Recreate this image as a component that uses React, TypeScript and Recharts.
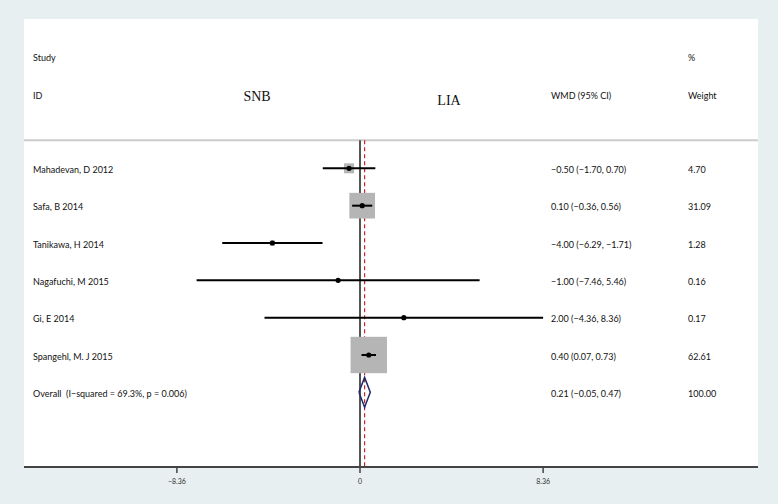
import React from 'react'
import { ComposedChart, Scatter, XAxis, YAxis, ReferenceLine } from 'recharts'

// study rows, top to bottom
const studies = ['Mahadevan, D 2012', 'Safa, B 2014', 'Tanikawa, H 2014', 'Nagafuchi, M 2015', 'Gi, E 2014', 'Spangehl, M. J 2015']
const wmd = [-0.5, 0.1, -4.0, -1.0, 2.0, 0.4]
const lower = [-1.7, -0.36, -6.29, -7.46, -4.36, 0.07]
const upper = [0.7, 0.56, -1.71, 5.46, 8.36, 0.73]
const weights = [4.7, 31.09, 1.28, 0.16, 0.17, 62.61]

const overallLabel = 'Overall  (I\u2212squared = 69.3%, p = 0.006)'
const overallWmd = 0.21
const overallLower = -0.05
const overallUpper = 0.47
const overallWeight = 100

const xTicks = [-8.36, 0, 8.36]

const FONT = 'Lato, "Open Sans", sans-serif'
const SERIF = '"Liberation Serif", "DejaVu Serif", serif'

const fmt = (v: number) => v.toFixed(2).replace('-', '\u2212')

const studyRows = studies.map((name, i) => ({
  x: wmd[i],
  y: i + 1,
  weight: weights[i],
}))

const ciLines = studies.map((name, i) => [
  { x: lower[i], y: i + 1 },
  { x: upper[i], y: i + 1 },
])

const textRows = [
  ...studies.map((name, i) => ({
    x: 0,
    y: i + 1,
    label: name,
    ci: `${fmt(wmd[i])} (${fmt(lower[i])}, ${fmt(upper[i])})`,
    w: weights[i].toFixed(2),
  })),
  {
    x: 0,
    y: studies.length + 1,
    label: overallLabel,
    ci: `${fmt(overallWmd)} (${fmt(overallLower)}, ${fmt(overallUpper)})`,
    w: overallWeight.toFixed(2),
  },
]

const oy = studies.length + 1
const diamond = [
  { x: overallLower, y: oy },
  { x: overallWmd, y: oy - 0.4 },
  { x: overallUpper, y: oy },
  { x: overallWmd, y: oy + 0.4 },
  { x: overallLower, y: oy },
]

const headerRows = [
  { x: 0, y: -2, row: 1 },
  { x: 0, y: -1, row: 2 },
]

const txt = { fontFamily: FONT, fontSize: 9, fill: '#111' }

function BoxShape(props: any) {
  const { cx, cy, payload } = props
  const s = 4.6 * Math.sqrt(payload.weight)
  return <rect x={cx - s / 2} y={cy - s / 2} width={s} height={s} fill="#b5b5b5" />
}

function DotShape(props: any) {
  const { cx, cy } = props
  return <circle cx={cx} cy={cy} r={2.6} fill="#000" />
}

function RowText(props: any) {
  const { cy, payload } = props
  return (
    <g>
      <text x={33} y={cy + 1} dominantBaseline="central" style={{ whiteSpace: 'pre' }} {...txt}>{payload.label}</text>
      <text x={551} y={cy + 1} dominantBaseline="central" {...txt}>{payload.ci}</text>
      <text x={688} y={cy + 1} dominantBaseline="central" {...txt}>{payload.w}</text>
    </g>
  )
}

function HeaderText(props: any) {
  const { cy, payload } = props
  if (payload.row === 1) {
    return (
      <g>
        <text x={33} y={cy + 1} dominantBaseline="central" {...txt}>Study</text>
        <text x={688} y={cy + 1} dominantBaseline="central" {...txt}>%</text>
      </g>
    )
  }
  return (
    <g>
      <text x={33} y={cy + 2} dominantBaseline="central" {...txt}>ID</text>
      <text x={257} y={cy + 3} textAnchor="middle" dominantBaseline="central" fontFamily={SERIF} fontSize={14} fill="#111">SNB</text>
      <text x={449} y={cy + 7} textAnchor="middle" dominantBaseline="central" fontFamily={SERIF} fontSize={14} fill="#111">LIA</text>
      <text x={551} y={cy + 2} dominantBaseline="central" {...txt}>WMD (95% CI)</text>
      <text x={688} y={cy + 2} dominantBaseline="central" {...txt}>Weight</text>
    </g>
  )
}

function Tick(props: any) {
  const { x, y, payload } = props
  return (
    <text x={x} y={y + 9} textAnchor="middle" fontFamily={FONT} fontSize={7} fill="#333">
      {payload.value === 0 ? '0' : fmt(payload.value)}
    </text>
  )
}

const none = () => <g />

export default function App() {
  return (
    <div style={{ position: 'absolute', left: 0, top: 0, width: 778, height: 504, background: '#e8eff0' }}>
      <div style={{ position: 'absolute', left: 24, top: 19, width: 734, height: 448, background: '#fff' }} />
      <div style={{ position: 'absolute', left: 0, top: 0 }}>
        <ComposedChart width={778} height={504} margin={{ top: 19, right: 20, bottom: 0, left: 24 }}>
          <XAxis
            type="number"
            dataKey="x"
            domain={[-15.34, 18.17]}
            ticks={xTicks}
            allowDataOverflow
            axisLine={{ stroke: '#444', strokeWidth: 2 }}
            tickLine={{ stroke: '#444', strokeWidth: 1.5 }}
            tickSize={6}
            height={37}
            tick={<Tick />}
          />
          <YAxis type="number" dataKey="y" domain={[-3, 9]} reversed hide allowDataOverflow />
          <ReferenceLine y={0.25} stroke="#cccccc" strokeWidth={2} />
          <ReferenceLine segment={[{ x: 0, y: 0.25 }, { x: 0, y: 9 }]} stroke="#555" strokeWidth={2} />
          <ReferenceLine
            segment={[{ x: overallWmd, y: 0.25 }, { x: overallWmd, y: 9 }]}
            stroke="#c0282d"
            strokeWidth={1.2}
            strokeDasharray="4 3"
          />
          <Scatter data={headerRows} shape={<HeaderText />} isAnimationActive={false} />
          <Scatter data={textRows} shape={<RowText />} isAnimationActive={false} />
          <Scatter data={studyRows} shape={<BoxShape />} isAnimationActive={false} />
          {ciLines.map((seg, i) => (
            <Scatter
              key={i}
              data={seg}
              line={{ stroke: '#000', strokeWidth: 2, fill: 'none' }}
              shape={none}
              isAnimationActive={false}
            />
          ))}
          <Scatter data={studyRows} shape={<DotShape />} isAnimationActive={false} />
          <Scatter
            data={diamond}
            line={{ stroke: '#1f2a68', strokeWidth: 1.5, fill: 'none' }}
            shape={none}
            isAnimationActive={false}
          />
        </ComposedChart>
      </div>
    </div>
  )
}
